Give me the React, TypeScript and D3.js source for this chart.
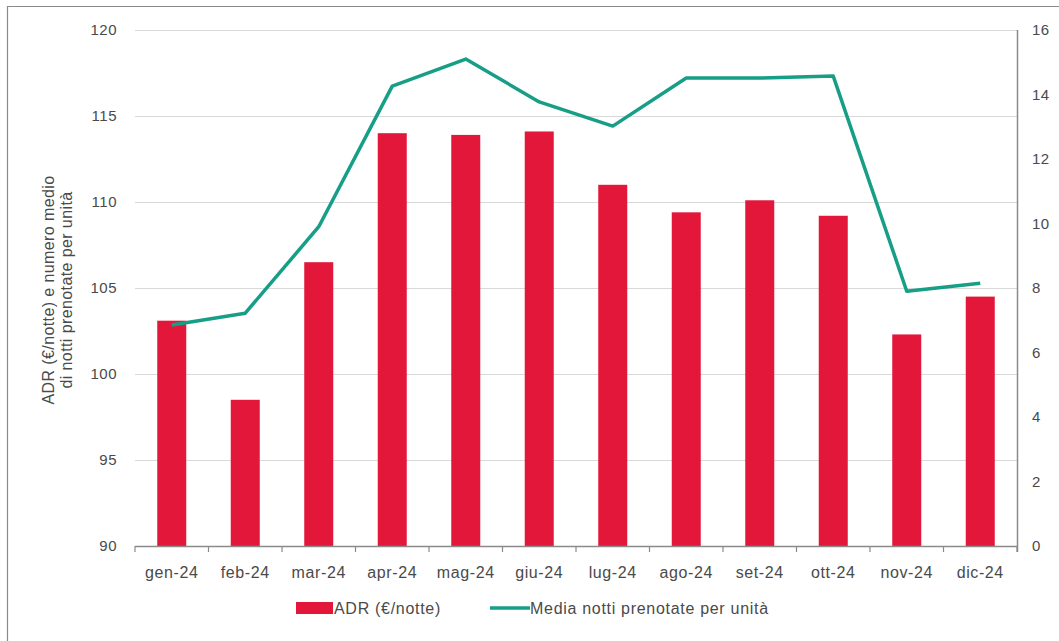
import React, { useRef, useEffect } from "react";
import * as d3 from "d3";

const months = ["gen-24", "feb-24", "mar-24", "apr-24", "mag-24", "giu-24", "lug-24", "ago-24", "set-24", "ott-24", "nov-24", "dic-24"];
const adr = [103.1, 98.5, 106.5, 114.0, 113.9, 114.1, 111.0, 109.4, 110.1, 109.2, 102.3, 104.5];
const nights = [6.85, 7.22, 9.9, 14.26, 15.1, 13.77, 13.02, 14.51, 14.51, 14.57, 7.9, 8.15];
const leftTicks = [90, 95, 100, 105, 110, 115, 120];
const rightTicks = [0, 2, 4, 6, 8, 10, 12, 14, 16];

const RED = "#e3173a";
const GREEN = "#179e86";
const TEXT = "#4a4a4a";
const FONT = "Liberation Sans, Arial, sans-serif";

const App = () => {
    const svgRef = useRef<SVGSVGElement>(null);

    useEffect(() => {
        document.body.style.margin = "0";

        const svgWidth = 1059;
        const svgHeight = 641;
        const margin = { top: 30, right: 42, bottom: 95, left: 135 };
        const width = svgWidth - margin.left - margin.right;
        const height = svgHeight - margin.top - margin.bottom;

        const svg = d3.select(svgRef.current)
            .attr("width", svgWidth)
            .attr("height", svgHeight)
            .style("font-family", FONT);
        svg.selectAll("*").remove();

        svg.append("rect").attr("width", svgWidth).attr("height", svgHeight).attr("fill", "#fff");
        // frame (top and left edges visible)
        svg.append("path")
            .attr("d", `M7.5,${svgHeight + 2} V6.5 H${svgWidth + 2}`)
            .attr("fill", "none")
            .attr("stroke", "#8a8a8a")
            .attr("stroke-width", 1.2);

        const g = svg.append("g").attr("transform", `translate(${margin.left},${margin.top})`);

        const xBand = d3.scaleBand().domain(months).range([0, width]);
        const yLeft = d3.scaleLinear().domain([90, 120]).range([height, 0]);
        const yRight = d3.scaleLinear().domain([0, 16]).range([height, 0]);

        // gridlines
        g.selectAll(".grid")
            .data(leftTicks.filter((d) => d > 90))
            .enter()
            .append("line")
            .attr("x1", 0)
            .attr("x2", width)
            .attr("y1", (d) => Math.round(yLeft(d)) + 0.5)
            .attr("y2", (d) => Math.round(yLeft(d)) + 0.5)
            .attr("stroke", "#d9d9d9")
            .attr("stroke-width", 1);

        // bars
        const barW = 29;
        g.selectAll(".bar")
            .data(adr)
            .enter()
            .append("rect")
            .attr("x", (d, i) => xBand(months[i])! + xBand.bandwidth() / 2 - barW / 2)
            .attr("y", (d) => yLeft(d))
            .attr("width", barW)
            .attr("height", (d) => height - yLeft(d))
            .attr("fill", RED);

        // line
        const line = d3.line<number>()
            .x((d, i) => xBand(months[i])! + xBand.bandwidth() / 2)
            .y((d) => yRight(d));
        g.append("path")
            .datum(nights)
            .attr("fill", "none")
            .attr("stroke", GREEN)
            .attr("stroke-width", 3.5)
            .attr("stroke-linejoin", "round")
            .attr("d", line);

        // bottom axis with ticks at band edges
        g.append("line")
            .attr("x1", 0).attr("x2", width)
            .attr("y1", height + 0.5).attr("y2", height + 0.5)
            .attr("stroke", "#8a8a8a").attr("stroke-width", 1.5);
        const edges = d3.range(months.length + 1).map((i) => i * xBand.step());
        g.selectAll(".xtick")
            .data(edges)
            .enter()
            .append("line")
            .attr("x1", (d) => d).attr("x2", (d) => d)
            .attr("y1", height).attr("y2", height + 6)
            .attr("stroke", "#8a8a8a").attr("stroke-width", 1.2);
        g.selectAll(".xlabel")
            .data(months)
            .enter()
            .append("text")
            .attr("x", (d) => xBand(d)! + xBand.bandwidth() / 2)
            .attr("y", height + 32)
            .attr("text-anchor", "middle")
            .attr("font-size", 16)
            .attr("letter-spacing", 0.6)
            .attr("fill", TEXT)
            .text((d) => d);

        // left tick labels
        g.selectAll(".ylabel")
            .data(leftTicks)
            .enter()
            .append("text")
            .attr("x", -18)
            .attr("y", (d) => yLeft(d))
            .attr("dy", "0.35em")
            .attr("text-anchor", "end")
            .attr("font-size", 15)
            .attr("letter-spacing", 0.5)
            .attr("fill", TEXT)
            .text((d) => d);

        // right axis
        g.append("line")
            .attr("x1", width + 0.5).attr("x2", width + 0.5)
            .attr("y1", 0).attr("y2", height + 6)
            .attr("stroke", "#8a8a8a").attr("stroke-width", 1.5);
        g.selectAll(".rlabel")
            .data(rightTicks)
            .enter()
            .append("text")
            .attr("x", width + 15)
            .attr("y", (d) => yRight(d))
            .attr("dy", "0.35em")
            .attr("font-size", 15)
            .attr("letter-spacing", 0.5)
            .attr("fill", TEXT)
            .text((d) => d);

        // y axis title
        const title = svg.append("text")
            .attr("transform", "translate(57,290) rotate(-90)")
            .attr("text-anchor", "middle")
            .attr("font-size", 16)
            .attr("letter-spacing", 0.4)
            .attr("fill", TEXT);
        title.append("tspan").attr("x", 0).attr("dy", "-0.2em").text("ADR (€/notte) e numero medio");
        title.append("tspan").attr("x", 0).attr("dy", "1.15em").text("di notti prenotate per unità");

        // legend
        const lg = svg.append("g").attr("transform", "translate(296,608)");
        lg.append("rect").attr("x", 0).attr("y", -6).attr("width", 37).attr("height", 12).attr("fill", RED);
        lg.append("text").attr("x", 38).attr("y", 0).attr("dy", "0.35em")
            .attr("font-size", 16).attr("letter-spacing", 0.7).attr("fill", TEXT).text("ADR (€/notte)");
        lg.append("line").attr("x1", 194).attr("x2", 234).attr("y1", 0).attr("y2", 0)
            .attr("stroke", GREEN).attr("stroke-width", 3.5);
        lg.append("text").attr("x", 234).attr("y", 0).attr("dy", "0.35em")
            .attr("font-size", 16).attr("letter-spacing", 0.7).attr("fill", TEXT).text("Media notti prenotate per unità");
    }, []);

    return (
        <div>
            <svg ref={svgRef} style={{ display: "block" }} />
        </div>
    );
};

export default App;
